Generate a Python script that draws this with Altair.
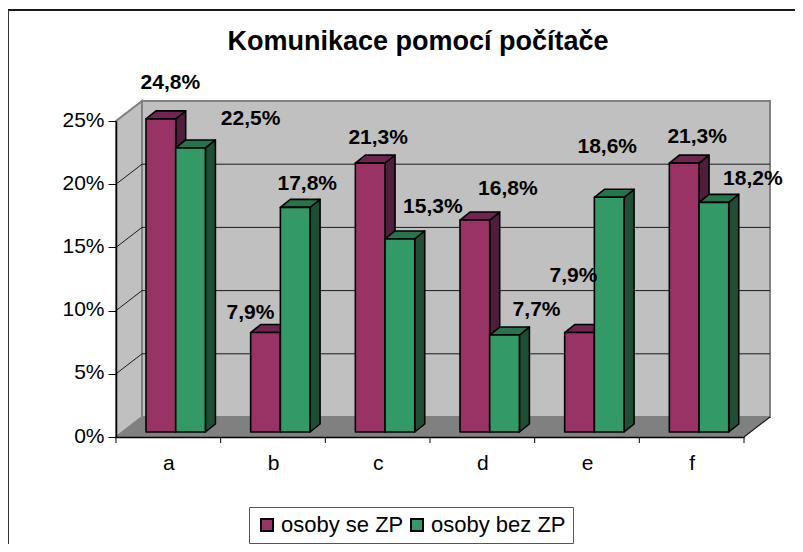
import altair as alt
import pandas as pd

TITLE = "Komunikace pomocí počítače"
categories = ["a", "b", "c", "d", "e", "f"]
series_names = ["osoby se ZP", "osoby bez ZP"]
se_zp = [24.8, 7.9, 21.3, 16.8, 7.9, 21.3]
bez_zp = [22.5, 17.8, 15.3, 7.7, 18.6, 18.2]
y_ticks = [0, 5, 10, 15, 20, 25]
grid_values = [5, 10, 15, 20]

front_colors = ["#993366", "#339966"]
top_colors = ["#6E2550", "#27744C"]
side_colors = ["#4F1E3B", "#1E4F35"]

# label shifts relative to the top centre of each bar, in pixels
label_dx = [[9.5, -15, 8, 33, -6, 13], [60, 12, 33, 32, -2, 39]]
label_dy = [[-36, -20, -25, -31, -57, -26], [-29, -23, -32, -25, -50, -23]]

# --- scales: plot area size and pseudo-3D projection ---
W, H = 628, 316
PX_X = W / len(categories)
PX_Y = H / 25
depth_x, depth_y = 26 / PX_X, 20 / PX_Y      # wall depth
bar_dx, bar_dy = 10 / PX_X, 8 / PX_Y         # bar depth
bar_w = 29.7 / PX_X
bar_left = 30 / PX_X
base = 5 / PX_Y
nc = len(categories)


def poly(rows, face, fill, pts):
    for x, y, y2 in pts:
        rows.append(dict(x=x, y=y, y2=y2, face=face, fill=fill))


# walls
wall_rows = []
poly(wall_rows, "back", "#C0C0C0", [(depth_x, depth_y, 25 + depth_y), (nc + depth_x, depth_y, 25 + depth_y)])
poly(wall_rows, "side", "#C0C0C0", [(0, 0, 25), (depth_x, depth_y, 25 + depth_y)])

floor_rows = []
poly(floor_rows, "floor", "#808080", [(0, 0, 0), (depth_x, depth_y, 0), (nc, depth_y, 0), (nc + depth_x, depth_y, depth_y)])

grid_rows = []
for v in grid_values:
    for k, (x, y) in enumerate([(0, v), (depth_x, v + depth_y), (nc + depth_x, v + depth_y)]):
        grid_rows.append(dict(x=x, y=y, g=str(v), k=k))
diag_rows = [dict(x=nc, y=0, g="d", k=0), dict(x=nc + depth_x, y=depth_y, g="d", k=1)]

# bars, in painter's order
bar_rows = []
label_rows = []
for i in range(nc):
    for s, vals in enumerate([se_zp, bez_zp]):
        v = vals[i]
        xl = i + bar_left + s * bar_w
        xr = xl + bar_w
        t = base + v - 0.03
        fid = f"{i:02d}{s}"
        poly(bar_rows, fid + "s", side_colors[s], [(xr, base, t), (xr + bar_dx, base + bar_dy, t + bar_dy)])
        poly(bar_rows, fid + "t", top_colors[s], [(xl, t, t), (xl + bar_dx, t, t + bar_dy), (xr, t, t + bar_dy), (xr + bar_dx, t + bar_dy, t + bar_dy)])
        poly(bar_rows, fid + "f", front_colors[s], [(xl, base, t), (xr, base, t)])
        label_rows.append(dict(
            x=(xl + xr) / 2 + label_dx[s][i] / PX_X,
            y=t + -label_dy[s][i] / PX_Y,
            text=f"{v:.1f}%".replace(".", ","),
        ))

x_scale = alt.Scale(domain=[0, nc], nice=False, zero=False)
y_scale = alt.Scale(domain=[0, 25], nice=False, zero=False)
FONT = "Liberation Sans"
letters = "[" + ",".join(f"'{c}'" for c in categories) + "]"

x_plain = alt.X("x:Q", scale=x_scale, axis=alt.Axis(
    title=None, values=[i + 0.5 for i in range(nc)],
    labelExpr=f"{letters}[floor(datum.value)]",
    tickSize=0, grid=False, domainColor="#000000", domainWidth=1.5, zindex=1,
    labelFont=FONT, labelFontSize=21, labelColor="#000000", labelPadding=15,
    labelFlush=False, labelOverlap=False))
y_plain = alt.Y("y:Q", scale=y_scale, axis=alt.Axis(
    title=None, values=y_ticks, labelExpr="datum.value + '%'",
    tickSize=8, tickColor="#000000", grid=False, domainColor="#000000", domainWidth=1.5, zindex=1,
    labelFont=FONT, labelFontSize=21, labelColor="#000000", labelPadding=4, labelOffset=-1,
    labelFlush=False, labelOverlap=False))


def areas(rows, **mark):
    return alt.Chart(pd.DataFrame(rows)).mark_area(opacity=1, **mark).encode(
        x=x_plain, y=y_plain, y2=alt.Y2("y2:Q"),
        fill=alt.Fill("fill:N", scale=None, legend=None),
        detail="face:N")


def lines(rows, color, width):
    return alt.Chart(pd.DataFrame(rows)).mark_line(color=color, strokeWidth=width).encode(
        x=x_plain, y=y_plain, detail="g:N", order="k:Q")


walls = areas(wall_rows, stroke="#808080", strokeWidth=2)
grid = lines(grid_rows, "#1A1A1A", 1)
floor = areas(floor_rows)
diag = lines(diag_rows, "#1A1A1A", 1.2)
bars = areas(bar_rows, stroke="#000000", strokeWidth=1.6, strokeJoin="round")

x_ticks = alt.Chart(pd.DataFrame({"x": list(range(nc + 1))})).mark_rule(color="#000000", strokeWidth=1).encode(
    x=x_plain, y=alt.value(H), y2=alt.value(H + 6))

labels = alt.Chart(pd.DataFrame(label_rows)).mark_text(
    font=FONT, fontSize=21, fontWeight="bold", color="#000000", align="center", baseline="middle"
).encode(x=x_plain, y=y_plain, text="text:N")

frame_top = alt.Chart(pd.DataFrame({"a": [0]})).mark_rule(color="#1A1A1A", strokeWidth=2).encode(
    x=alt.value(-108), x2=alt.value(679), y=alt.value(-111))
frame_left = alt.Chart(pd.DataFrame({"a": [0]})).mark_rule(color="#333333", strokeWidth=2).encode(
    x=alt.value(-108), y=alt.value(-111), y2=alt.value(423))

legend_df = pd.DataFrame({"serie": series_names, "x": [0.0, 0.0], "y": [0.0, 0.0]})
legend_layer = alt.Chart(legend_df).transform_filter("false").mark_square().encode(
    x=x_plain, y=y_plain,
    color=alt.Color("serie:N", scale=alt.Scale(domain=series_names, range=front_colors), legend=alt.Legend(
        title=None, orient="none", legendX=133, legendY=386, direction="horizontal", columns=2,
        symbolType="square", symbolSize=144, symbolStrokeColor="#000000", symbolStrokeWidth=2,
        symbolOpacity=1, labelFont=FONT, labelFontSize=22, labelColor="#000000", labelLimit=200,
        columnPadding=2, labelOffset=3, padding=7, strokeColor="#555555", fillColor="#FFFFFF",
    )))

chart = alt.layer(
    walls, grid, floor, diag, bars, x_ticks, labels, frame_top, frame_left, legend_layer
).properties(
    width=W, height=H,
    title=alt.TitleParams(TITLE, font=FONT, fontSize=27, fontWeight="bold", color="#000000",
                          anchor="middle", frame="group", dx=-12, offset=-47),
    autosize=alt.AutoSizeParams(type="none"),
    padding={"left": 108, "top": 113, "right": 51, "bottom": 107},
    background="#FFFFFF",
).configure_view(stroke=None)

chart.save("out.html", embed_options={"renderer": "svg", "actions": False})
